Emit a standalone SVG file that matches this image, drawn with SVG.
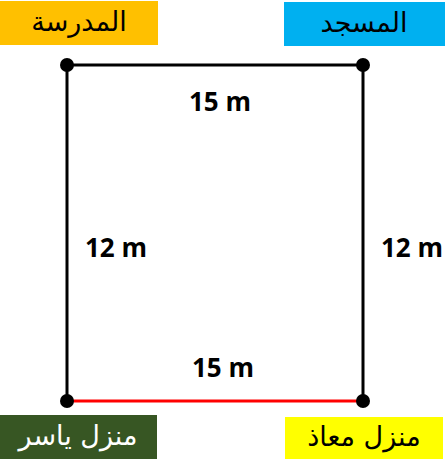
<svg xmlns="http://www.w3.org/2000/svg" width="446" height="459" viewBox="0 0 446 459">
<style>
.lbl{font-family:"DejaVu Sans",sans-serif;font-size:27px;text-anchor:middle;direction:rtl}
.dim{font-family:"Open Sans","Liberation Sans",sans-serif;font-weight:bold;font-size:26px;text-anchor:middle;fill:#000}
.edge{stroke:#000;stroke-width:3;fill:none}
.dot{fill:#000}
</style>
<rect width="446" height="459" fill="#fff"/>
<g id="connectors">
<line class="edge" x1="67" y1="65" x2="363" y2="65"/>
<line class="edge" x1="67" y1="65" x2="67" y2="401"/>
<line class="edge" x1="363" y1="65" x2="363" y2="401"/>
<line class="edge" x1="67" y1="401" x2="363" y2="401" style="stroke:#ff0000"/>
<text class="dim" x="220" y="111">15 m</text>
<text class="dim" x="116" y="257">12 m</text>
<text class="dim" x="412" y="257">12 m</text>
<text class="dim" x="223" y="377">15 m</text>
</g>
<g id="school">
<rect x="0" y="1" width="158" height="44" fill="#FFC000"/>
<text class="lbl" x="79" y="31" fill="#000">المدرسة</text>
<circle class="dot" cx="67" cy="65" r="7"/>
</g>
<g id="mosque">
<rect x="284" y="2" width="161" height="44" fill="#00B0F0"/>
<text class="lbl" x="364" y="32" fill="#000">المسجد</text>
<circle class="dot" cx="363" cy="65" r="7"/>
</g>
<g id="yaser">
<rect x="0" y="415" width="157" height="44" fill="#375623"/>
<text class="lbl" x="78" y="445" fill="#fff">منزل ياسر</text>
<circle class="dot" cx="67" cy="401" r="7"/>
</g>
<g id="muath">
<rect x="285" y="417" width="158" height="42" fill="#FFFF00"/>
<text class="lbl" x="364" y="446" fill="#000">منزل معاذ</text>
<circle class="dot" cx="363" cy="401" r="7"/>
</g>
</svg>
